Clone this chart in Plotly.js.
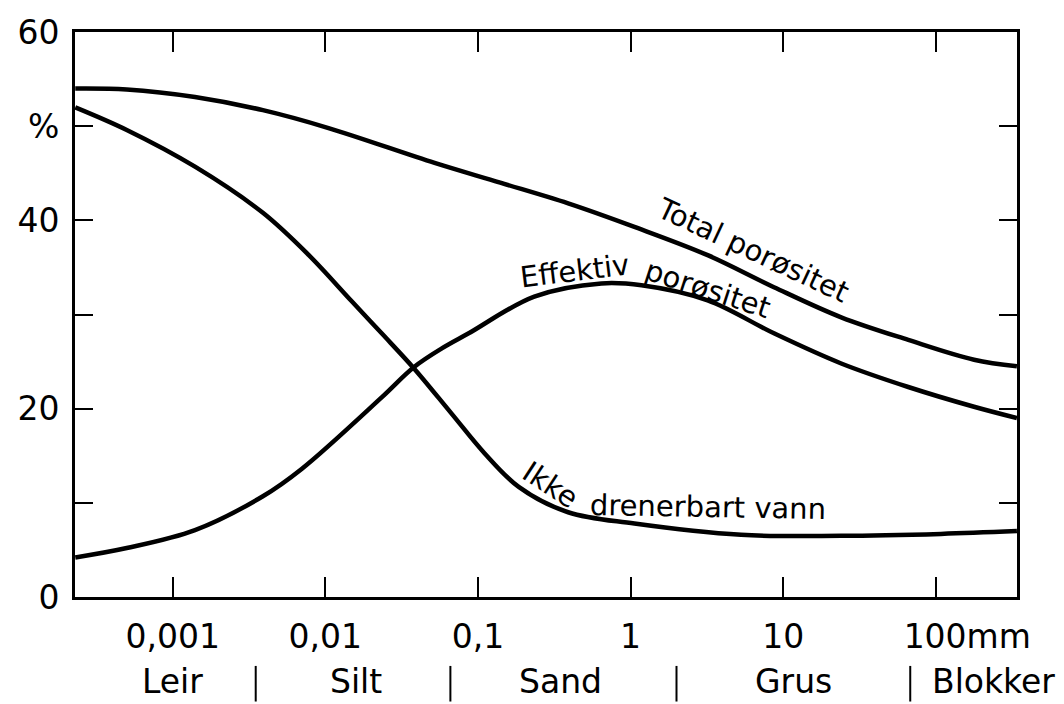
<!DOCTYPE html>
<html>
<head>
<meta charset="utf-8">
<script src="https://cdn.plot.ly/plotly-3.0.1.min.js"></script>
<style>
  html, body { margin: 0; padding: 0; background: #ffffff; }
  #chart { width: 1064px; height: 704px; }
</style>
</head>
<body>
<div id="chart"></div>
<script>
// ---- Data (grain size in mm, porosity in %) ----
const totalX = [0.00023, 0.0005, 0.0014, 0.0039, 0.0105, 0.052, 0.14, 0.39, 1.06, 3.2, 8.7, 24, 66, 178, 340];
const totalY = [54.0, 53.9, 53.1, 51.7, 49.8, 46.1, 44.0, 41.8, 39.3, 36.3, 32.9, 29.7, 27.3, 25.2, 24.5];

const effX = [0.00023, 0.0005, 0.0014, 0.0039, 0.007, 0.0234, 0.038, 0.058, 0.087, 0.234, 0.644, 1.18, 3.2, 8.7, 24, 66, 178, 340];
const effY = [4.2, 5.2, 7.1, 10.7, 13.6, 21.2, 24.4, 26.4, 28.0, 31.9, 33.3, 33.1, 31.5, 28.0, 24.8, 22.3, 20.2, 19.0];

const ikkeX = [0.00023, 0.0005, 0.0014, 0.0039, 0.0078, 0.0149, 0.0234, 0.038, 0.067, 0.11, 0.185, 0.39, 1.06, 5.3, 24, 108, 340];
const ikkeY = [52.0, 49.6, 45.7, 40.8, 36.3, 31.4, 28.0, 24.3, 19.5, 15.3, 11.7, 9.0, 7.8, 6.6, 6.5, 6.7, 7.0];

const xTickVals = [0.001, 0.01, 0.1, 1, 10, 100];
const xTickText = ['0,001', '0,01', '0,1', '1', '10', '\u00a0\u00a0\u00a0\u00a0\u00a0\u00a0100mm'];
const yTickVals = [0, 10, 20, 30, 40, 50, 60];
const yTickText = ['0', '', '20', '', '40', '%', '60'];

const classNames = ['Leir', 'Silt', 'Sand', 'Grus', 'Blokker'];
const classLabelX = [0.001, 0.016, 0.35, 11.7, 240];
const classBounds = [0.0035, 0.066, 2.0, 68];

const curveLabels = ['Total porøsitet', 'Effektiv', 'porøsitet', 'Ikke', 'drenerbart vann'];
const curveLabelX = [6.3, 0.43, 3.2, 0.30, 3.2];
const curveLabelY = [36.8, 34.6, 32.7, 11.9, 9.6];
const curveLabelAngle = [25, -7, 18, 33, 1];

// ---- Layout helpers ----
const xRange = [-3.64, 2.532];
const FONT = 'DejaVu Sans, Arial, sans-serif';
const lineStyle = { color: '#000000', width: 4.5, shape: 'spline', smoothing: 1 };
function toPaperX(v) { return (Math.log10(v) - xRange[0]) / (xRange[1] - xRange[0]); }

const traces = [
  { x: totalX, y: totalY, mode: 'lines', line: lineStyle, name: 'Total porøsitet', hoverinfo: 'x+y' },
  { x: effX, y: effY, mode: 'lines', line: lineStyle, name: 'Effektiv porøsitet', hoverinfo: 'x+y' },
  { x: ikkeX, y: ikkeY, mode: 'lines', line: lineStyle, name: 'Ikke drenerbart vann', hoverinfo: 'x+y' }
];

const annotations = [];
curveLabels.forEach((t, i) => {
  annotations.push({
    text: t, xref: 'x', yref: 'y',
    x: Math.log10(curveLabelX[i]), y: curveLabelY[i],
    xanchor: 'center', yanchor: 'middle', showarrow: false,
    textangle: curveLabelAngle[i],
    font: { family: FONT, size: 29, color: '#000000' }
  });
});
classNames.forEach((t, i) => {
  annotations.push({
    text: t, xref: 'paper', yref: 'paper',
    x: toPaperX(classLabelX[i]), y: -0.15,
    xanchor: 'center', yanchor: 'middle', showarrow: false,
    font: { family: FONT, size: 33, color: '#000000' }
  });
});

const shapes = classBounds.map(b => ({
  type: 'line', xref: 'paper', yref: 'paper',
  x0: toPaperX(b), x1: toPaperX(b), y0: -0.122, y1: -0.185,
  line: { color: '#000000', width: 2 }
}));

const layout = {
  width: 1064, height: 704,
  margin: { l: 75, r: 47, t: 32, b: 107 },
  paper_bgcolor: '#ffffff', plot_bgcolor: '#ffffff',
  showlegend: false,
  font: { family: FONT, size: 33, color: '#000000' },
  xaxis: {
    type: 'log', range: xRange,
    tickmode: 'array', tickvals: xTickVals, ticktext: xTickText,
    ticks: 'inside', ticklen: 20, tickwidth: 2, tickcolor: '#000000',
    showline: true, linewidth: 3, linecolor: '#000000', mirror: 'ticks',
    showgrid: false, zeroline: false, ticklabelstandoff: 8,
    tickfont: { family: FONT, size: 33, color: '#000000' }
  },
  yaxis: {
    range: [0, 60],
    tickmode: 'array', tickvals: yTickVals, ticktext: yTickText,
    ticks: 'inside', ticklen: 18, tickwidth: 2, tickcolor: '#000000',
    showline: true, linewidth: 3, linecolor: '#000000', mirror: 'ticks',
    showgrid: false, zeroline: false, ticklabelstandoff: 6,
    tickfont: { family: FONT, size: 33, color: '#000000' }
  },
  annotations: annotations,
  shapes: shapes
};

Plotly.newPlot('chart', traces, layout, { staticPlot: true, displayModeBar: false });
</script>
</body>
</html>
